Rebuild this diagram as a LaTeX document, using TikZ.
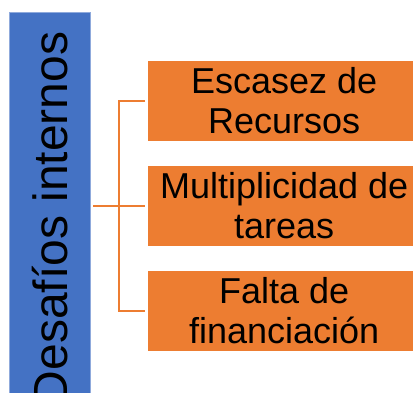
\documentclass[tikz,border=0pt]{standalone}
\usepackage{fontspec}
\setmainfont{Liberation Sans}
\usepackage{tikz}
\usetikzlibrary{positioning}
\usetikzlibrary{calc}

\definecolor{officeBlue}{HTML}{4472C4}
\definecolor{officeBlueLine}{HTML}{8FAADC}
\definecolor{officeOrange}{HTML}{ED7D31}

\begin{document}
\begin{tikzpicture}[x = 1pt, y = -1pt,
                    mainBar/.style = {rectangle, fill = officeBlue, draw = officeBlueLine, line width = .8pt, inner sep = 0pt,
                                      minimum width = 412pt, minimum height = 80.5pt, rotate = 90,
                                      font = \fontsize{48}{58}\selectfont},
                    challengeBox/.style = {rectangle, fill = officeOrange, inner sep = 0pt, align = center,
                                           minimum width = 272pt, minimum height = 80pt,
                                           font = \fontsize{36}{40}\selectfont},
                    bracketLine/.style = {draw = officeOrange, line width = 2pt}]
    \useasboundingbox (0,0) rectangle (413,393);
    \clip (0,0) rectangle (413,393);

    \node [mainBar, anchor = east] (desafios) at (49.75,12) {Desafíos internos};

    \node [challengeBox, anchor = west]                    (challenge1) at (148,101) {Escasez de\\Recursos};
    \node [challengeBox, below = 24.5pt of challenge1]    (challenge2) {Multiplicidad de\\tareas};
    \node [challengeBox, below = 24.5pt of challenge2]    (challenge3) {Falta de\\financiación};

    \coordinate (fork1) at ($(challenge1.west) + (-29,0)$);
    \coordinate (fork3) at ($(challenge3.west) + (-29,0)$);

    \draw [bracketLine] ([xshift = 3pt]desafios.south |- challenge2.west) -- ([xshift = -3pt]challenge2.west);
    \draw [bracketLine] ([xshift = -3pt]challenge1.west) -- (fork1) -- (fork3) -- ([xshift = -3pt]challenge3.west);
\end{tikzpicture}
\end{document}
